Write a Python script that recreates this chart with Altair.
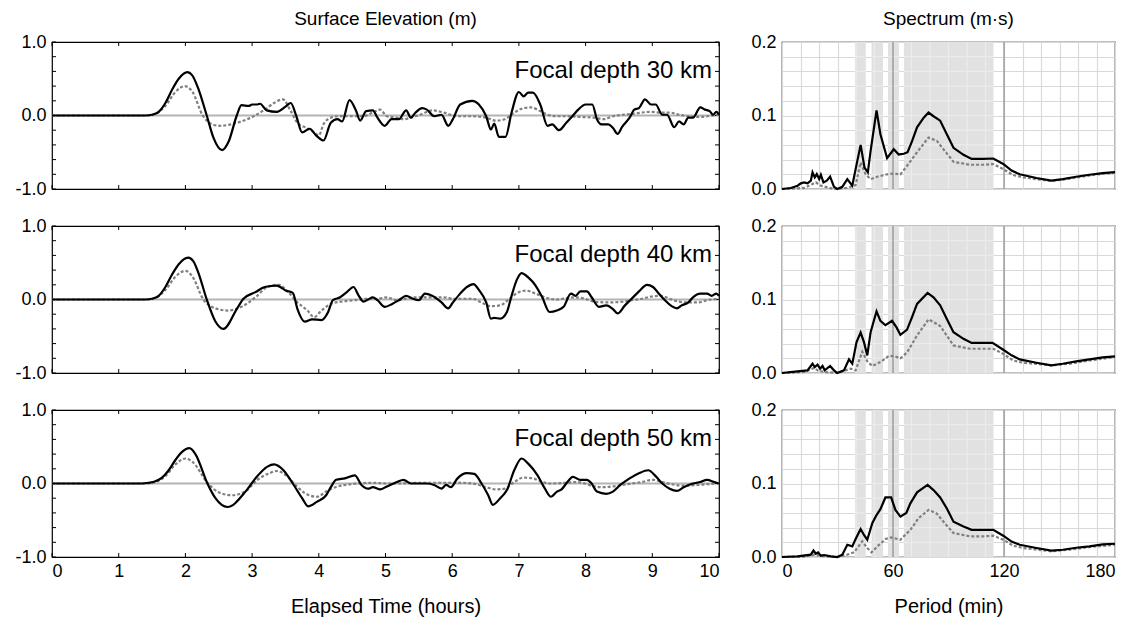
import altair as alt
import pandas as pd

FONT = "Liberation Sans"

# ---------------- time series (hours, metres) ----------------
depths = [30, 40, 50]

solid_30 = [(0,0),(1.4,0),(1.5,0.01),(1.6,0.05),(1.7,0.17),(1.8,0.35),(1.9,0.50),(2.03,0.59),(2.1,0.55),(2.2,0.35),(2.32,0.0),(2.42,-0.3),(2.55,-0.47),(2.65,-0.35),(2.77,0.0),(2.84,0.14),(2.95,0.13),(3.0,0.15),(3.08,0.15),(3.12,0.16),(3.22,0.07),(3.37,0.05),(3.5,0.12),(3.58,0.17),(3.66,0.0),(3.75,-0.23),(3.86,-0.18),(3.97,-0.28),(4.07,-0.34),(4.18,-0.1),(4.28,-0.05),(4.35,-0.08),(4.46,0.21),(4.56,0.06),(4.62,-0.07),(4.71,0.06),(4.81,0.07),(4.88,-0.03),(4.99,-0.14),(5.09,-0.05),(5.2,-0.05),(5.31,0.07),(5.38,-0.03),(5.45,0.04),(5.55,0.1),(5.62,0.08),(5.73,-0.01),(5.84,0.01),(5.94,-0.14),(6.01,-0.05),(6.12,0.15),(6.3,0.2),(6.4,0.15),(6.51,-0.01),(6.58,-0.19),(6.63,-0.11),(6.7,-0.29),(6.8,-0.29),(6.89,0.04),(7.0,0.32),(7.07,0.26),(7.14,0.31),(7.21,0.31),(7.32,0.15),(7.43,-0.14),(7.5,-0.12),(7.6,-0.2),(7.71,-0.1),(7.82,0.01),(7.89,0.08),(8.0,0.15),(8.1,0.15),(8.17,-0.05),(8.24,-0.12),(8.34,-0.12),(8.41,-0.17),(8.48,-0.25),(8.55,-0.15),(8.66,-0.03),(8.73,0.08),(8.8,0.1),(8.89,0.22),(8.98,0.15),(9.05,0.15),(9.15,0.01),(9.22,0.01),(9.33,-0.16),(9.4,-0.08),(9.47,-0.12),(9.54,-0.03),(9.61,-0.03),(9.72,0.11),(9.79,0.08),(9.86,0.06),(9.91,0.01),(9.96,0.05),(10.0,0.01)]
dashed_30 = [(0,0),(1.45,0),(1.55,0.02),(1.7,0.13),(1.85,0.32),(1.99,0.40),(2.1,0.33),(2.26,0.0),(2.4,-0.12),(2.52,-0.14),(2.77,-0.10),(2.98,-0.03),(3.19,0.08),(3.33,0.17),(3.46,0.22),(3.58,0.06),(3.68,-0.1),(3.82,-0.17),(3.93,-0.23),(4.0,-0.27),(4.07,-0.12),(4.18,-0.03),(4.28,-0.01),(4.46,-0.01),(4.67,-0.01),(4.81,0.04),(4.92,0.08),(5.02,-0.01),(5.17,-0.03),(5.27,-0.05),(5.38,-0.03),(5.52,0.01),(5.7,0.07),(5.87,0.04),(6.08,-0.01),(6.3,-0.01),(6.51,-0.03),(6.65,-0.07),(6.79,-0.05),(6.93,0.04),(7.07,0.1),(7.18,0.11),(7.32,0.06),(7.43,0.01),(7.57,-0.01),(7.71,-0.01),(7.92,-0.02),(8.13,-0.03),(8.27,-0.05),(8.41,-0.01),(8.55,0.01),(8.69,0.02),(8.84,0.04),(8.98,0.05),(9.12,0.04),(9.26,0.04),(9.4,0.01),(9.55,-0.01),(9.69,-0.02),(9.82,-0.01),(10.0,0.01)]

solid_40 = [(0,0),(1.4,0),(1.5,0.01),(1.6,0.05),(1.7,0.17),(1.8,0.34),(1.9,0.48),(2.04,0.57),(2.12,0.52),(2.2,0.35),(2.32,0.0),(2.45,-0.3),(2.57,-0.40),(2.77,-0.13),(2.87,0.01),(3.05,0.10),(3.19,0.17),(3.37,0.19),(3.51,0.12),(3.61,0.09),(3.68,-0.13),(3.79,-0.30),(3.90,-0.27),(4.04,-0.28),(4.14,-0.17),(4.21,-0.01),(4.32,0.03),(4.42,0.10),(4.52,0.17),(4.60,0.05),(4.67,-0.03),(4.74,0.0),(4.81,0.03),(4.88,-0.01),(4.99,-0.10),(5.10,-0.06),(5.20,-0.01),(5.31,0.05),(5.41,0.01),(5.50,-0.01),(5.59,0.08),(5.70,0.05),(5.84,-0.04),(5.94,-0.12),(6.01,-0.04),(6.12,0.08),(6.22,0.17),(6.32,0.21),(6.40,0.13),(6.51,-0.04),(6.58,-0.26),(6.63,-0.25),(6.72,-0.26),(6.82,-0.17),(6.89,0.05),(6.97,0.27),(7.04,0.36),(7.14,0.30),(7.25,0.19),(7.35,0.03),(7.46,-0.17),(7.57,-0.15),(7.67,-0.10),(7.78,0.08),(7.85,0.05),(7.92,0.11),(8.02,0.11),(8.09,0.03),(8.20,-0.10),(8.31,-0.08),(8.41,-0.13),(8.48,-0.19),(8.59,-0.08),(8.69,0.01),(8.80,0.11),(8.92,0.20),(9.01,0.17),(9.08,0.10),(9.19,-0.01),(9.29,-0.09),(9.37,-0.12),(9.44,-0.08),(9.54,-0.04),(9.61,0.03),(9.72,0.08),(9.82,0.08),(9.89,0.05),(9.96,0.08),(10.0,0.05)]
dashed_40 = [(0,0),(1.45,0),(1.55,0.02),(1.7,0.13),(1.85,0.31),(2.0,0.39),(2.1,0.32),(2.27,0.0),(2.45,-0.12),(2.63,-0.15),(2.84,-0.10),(3.05,0.03),(3.23,0.17),(3.40,0.20),(3.54,0.10),(3.68,-0.04),(3.83,-0.15),(3.93,-0.24),(4.04,-0.15),(4.18,-0.06),(4.32,-0.03),(4.53,-0.01),(4.74,0.01),(4.88,0.01),(5.02,0.03),(5.17,-0.01),(5.31,0.01),(5.45,0.03),(5.59,0.03),(5.73,0.03),(5.87,0.03),(6.01,0.01),(6.15,0.01),(6.3,0.01),(6.44,-0.04),(6.58,-0.09),(6.72,-0.08),(6.86,0.01),(7.0,0.10),(7.11,0.12),(7.25,0.08),(7.42,0.02),(7.57,0.0),(7.71,0.02),(7.85,0.03),(7.99,0.01),(8.13,-0.03),(8.34,-0.04),(8.55,-0.03),(8.69,-0.01),(8.84,0.01),(8.98,0.04),(9.12,0.05),(9.26,0.01),(9.40,-0.03),(9.54,-0.04),(9.68,-0.04),(9.82,-0.01),(10.0,0.01)]

solid_50 = [(0,0),(1.35,0),(1.45,0.01),(1.55,0.03),(1.65,0.08),(1.75,0.18),(1.85,0.32),(1.95,0.43),(2.06,0.48),(2.15,0.40),(2.33,0.0),(2.45,-0.2),(2.63,-0.32),(2.91,-0.10),(3.05,0.07),(3.23,0.23),(3.33,0.26),(3.47,0.18),(3.61,0.0),(3.75,-0.20),(3.84,-0.31),(3.97,-0.25),(4.11,-0.16),(4.18,-0.05),(4.26,0.05),(4.39,0.07),(4.54,0.11),(4.64,-0.02),(4.74,-0.07),(4.81,-0.05),(4.92,-0.08),(5.02,-0.04),(5.17,0.02),(5.27,0.05),(5.38,0.0),(5.52,0.0),(5.62,0.0),(5.73,-0.02),(5.84,-0.07),(5.91,-0.02),(5.98,-0.05),(6.08,0.07),(6.22,0.14),(6.33,0.13),(6.44,0.0),(6.54,-0.16),(6.61,-0.29),(6.72,-0.20),(6.82,-0.09),(6.93,0.18),(7.04,0.34),(7.14,0.27),(7.28,0.11),(7.39,-0.07),(7.48,-0.18),(7.57,-0.11),(7.64,-0.08),(7.71,0.0),(7.81,0.09),(7.92,0.05),(8.02,0.05),(8.09,0.0),(8.17,-0.11),(8.31,-0.14),(8.41,-0.11),(8.52,-0.02),(8.66,0.07),(8.80,0.14),(8.94,0.18),(9.05,0.10),(9.15,0.0),(9.26,-0.07),(9.37,-0.10),(9.47,-0.05),(9.61,0.0),(9.72,0.02),(9.82,0.05),(9.93,0.02),(10.0,0.0)]
dashed_50 = [(0,0),(1.45,0),(1.55,0.02),(1.7,0.10),(1.85,0.26),(2.0,0.34),(2.1,0.30),(2.34,0.0),(2.5,-0.12),(2.70,-0.16),(2.91,-0.10),(3.08,0.05),(3.26,0.14),(3.37,0.17),(3.51,0.11),(3.65,-0.02),(3.79,-0.13),(3.97,-0.18),(4.11,-0.11),(4.25,-0.05),(4.39,-0.02),(4.60,0.0),(4.81,0.01),(5.02,0.0),(5.24,0.0),(5.45,0.01),(5.66,0.01),(5.87,0.01),(6.08,0.01),(6.3,0.0),(6.51,-0.05),(6.65,-0.08),(6.79,-0.07),(6.93,0.02),(7.07,0.08),(7.21,0.07),(7.35,0.02),(7.49,0.0),(7.71,0.01),(7.85,0.02),(7.99,0.0),(8.13,-0.04),(8.27,-0.05),(8.41,-0.04),(8.62,-0.01),(8.84,0.02),(9.01,0.05),(9.15,0.02),(9.29,-0.01),(9.47,-0.03),(9.68,-0.02),(9.82,-0.01),(10.0,0.0)]

# ---------------- spectra (period min, m*s) ----------------
spec_solid_30 = [(0,0),(4.8,0.0014),(8.4,0.0045),(10.2,0.0077),(12.0,0.009),(13.8,0.0077),(15.6,0.0113),(16.5,0.0226),(17.7,0.0158),(18.8,0.0203),(20.1,0.0135),(21.0,0.0194),(22.4,0.009),(24.2,0.0113),(26.0,0.0167),(28.1,0.003),(29.9,0),(32.6,0.003),(35.3,0.0135),(38.0,0.0045),(39.8,0.027),(42.5,0.060),(44.6,0.029),(46.4,0.0226),(47.9,0.052),(51.1,0.107),(53.2,0.0745),(56.8,0.042),(60.4,0.054),(63.1,0.047),(65.8,0.048),(67.9,0.050),(70.3,0.065),(73.0,0.084),(76.6,0.097),(79.2,0.104),(81.9,0.099),(85.5,0.093),(89.1,0.0745),(92.7,0.056),(98.1,0.0465),(102.5,0.041),(108.8,0.041),(114.2,0.0415),(119.6,0.034),(124.1,0.025),(128.5,0.020),(137.5,0.015),(145.6,0.0113),(151.8,0.0135),(159.0,0.0167),(166.2,0.0194),(173.4,0.0217),(180,0.023)]
spec_dashed_30 = [(0,0),(12.0,0.0014),(16.5,0.0068),(18.3,0.009),(21.0,0.0045),(24.6,0.0023),(28.1,0),(35.3,0.0014),(39.8,0.0054),(42.5,0.036),(45.2,0.020),(47.9,0.0135),(51.5,0.0167),(56.8,0.020),(60.4,0.021),(64.0,0.020),(67.6,0.0316),(73.0,0.050),(79.2,0.070),(83.7,0.0655),(87.3,0.054),(92.7,0.037),(101.6,0.033),(108.8,0.033),(114.2,0.034),(119.6,0.027),(125.0,0.019),(130.3,0.0158),(145.6,0.0108),(155.4,0.014),(164.4,0.0176),(173.4,0.0208),(180,0.0221)]

spec_solid_40 = [(0,0),(8.4,0.0023),(13.8,0.0036),(16.5,0.0126),(17.7,0.0081),(19.2,0.0113),(20.6,0.0059),(21.9,0.0095),(23.1,0.0036),(26.0,0.0095),(28.1,0.0036),(29.9,0),(33.5,0.0036),(36.2,0.0185),(38.0,0.0126),(40.3,0.042),(42.5,0.055),(44.3,0.042),(46.1,0.024),(47.9,0.0555),(51.1,0.084),(53.2,0.071),(55.9,0.065),(59.5,0.071),(61.9,0.062),(64.0,0.052),(67.6,0.059),(70.3,0.076),(73.0,0.094),(78.7,0.109),(81.9,0.103),(85.5,0.092),(89.1,0.0736),(92.7,0.0555),(98.1,0.0465),(102.5,0.041),(108.8,0.041),(113.8,0.041),(119.6,0.0316),(124.1,0.024),(128.5,0.0185),(137.5,0.014),(145.6,0.0104),(151.8,0.0126),(159.0,0.0158),(166.2,0.0185),(173.4,0.0212),(180,0.0226)]
spec_dashed_40 = [(0,0),(12.0,0.0014),(17.4,0.0068),(19.2,0.0036),(22.8,0.0014),(29.9,0),(37.1,0.0059),(39.8,0.0036),(43.4,0.029),(46.1,0.0158),(48.8,0.0095),(53.2,0.0149),(57.7,0.023),(60.4,0.023),(64.0,0.020),(67.6,0.028),(73.0,0.051),(79.2,0.073),(85.5,0.064),(92.7,0.0375),(101.6,0.033),(114.2,0.033),(119.6,0.026),(125.0,0.017),(130.3,0.014),(145.6,0.0104),(155.4,0.0126),(166.2,0.017),(180,0.0217)]

spec_solid_50 = [(0,0),(8.4,0.0009),(15.6,0.0032),(17.0,0.009),(18.3,0.0045),(19.5,0.0063),(21.0,0.0018),(22.8,0.0027),(26.4,0.0009),(29.9,0),(32.6,0.0032),(35.3,0.0167),(38.0,0.0144),(39.8,0.0244),(42.5,0.038),(44.3,0.030),(46.1,0.0235),(48.8,0.046),(51.1,0.057),(53.2,0.065),(55.9,0.081),(59.0,0.081),(61.3,0.064),(64.0,0.055),(67.2,0.060),(69.4,0.073),(73.0,0.088),(78.7,0.098),(81.9,0.091),(85.5,0.081),(89.1,0.066),(92.7,0.048),(98.1,0.0415),(102.5,0.037),(108.8,0.037),(114.2,0.037),(119.6,0.029),(124.1,0.021),(128.5,0.0167),(137.5,0.0122),(145.6,0.0086),(151.8,0.0099),(159.0,0.0126),(166.2,0.0144),(173.4,0.0172),(180,0.018)]
spec_dashed_50 = [(0,0),(12.0,0.0005),(17.4,0.0032),(22.8,0.0009),(29.9,0),(35.3,0.0032),(38.9,0.0063),(43.4,0.0213),(46.1,0.0122),(48.4,0.0063),(51.5,0.0144),(55.9,0.0244),(59.0,0.0267),(64.0,0.0235),(69.4,0.037),(73.9,0.053),(79.2,0.064),(83.7,0.059),(87.3,0.048),(92.7,0.0326),(101.6,0.028),(108.8,0.028),(114.2,0.029),(119.6,0.0235),(125.0,0.0154),(130.3,0.0122),(145.6,0.0077),(155.4,0.0099),(166.2,0.0135),(180,0.0167)]

# shaded period bands and reference periods (min)
band_start = [39.4, 48.4, 57.3, 65.9]
band_end = [45.3, 54.6, 63.2, 114.3]
ref_periods = [60, 120]

# axis tick / grid positions
elev_ticks = [-1.0, -0.8, -0.6, -0.4, -0.2, 0.0, 0.2, 0.4, 0.6, 0.8, 1.0]
hour_ticks = [0, 1, 2, 3, 4, 5, 6, 7, 8, 9, 10]
period_grid = [0, 10, 20, 30, 40, 50, 60, 70, 80, 90, 100, 110, 120, 130, 140, 150, 160, 170, 180]
spec_grid = [0.0, 0.02, 0.04, 0.06, 0.08, 0.1, 0.12, 0.14, 0.16, 0.18, 0.2]

series = {
    30: (solid_30, dashed_30, spec_solid_30, spec_dashed_30),
    40: (solid_40, dashed_40, spec_solid_40, spec_dashed_40),
    50: (solid_50, dashed_50, spec_solid_50, spec_dashed_50),
}

LW, LH = 667, 147
RW, RH = 333, 147
TICK = 4
LABEL_FS = 18
TITLE_FS = 19
AXTITLE_FS = 20


def to_df(pairs, xname, yname):
    return pd.DataFrame(pairs, columns=[xname, yname])


def left_panel(depth, bottom):
    solid, dashed = series[depth][0], series[depth][1]
    xs = alt.Scale(domain=[0, 10], nice=False, zero=False)
    ys = alt.Scale(domain=[-1, 1], nice=False)
    if bottom:
        xax = alt.Axis(values=hour_ticks, format="d", ticks=False, domain=False, grid=False,
                       labelFontSize=LABEL_FS, labelPadding=5, title="Elapsed Time (hours)",
                       titleFontSize=AXTITLE_FS, titleFontWeight="normal", titlePadding=16,
                       labelColor="black", titleColor="black")
    else:
        xax = None
    yax = alt.Axis(values=[-1, 0, 1], ticks=False, domain=False, grid=False, labelFontSize=LABEL_FS,
                   labelPadding=6, title=None, labelColor="black",
                   labelExpr="datum.value < 0 ? '-1.0' : format(datum.value, '.1f')")

    zero = alt.Chart(pd.DataFrame({"v": [0.0]})).mark_rule(color="#b4b4b4", strokeWidth=2).encode(
        y=alt.Y("v:Q", scale=ys, axis=yax))
    tdf = pd.DataFrame({"v": elev_ticks})
    hdf = pd.DataFrame({"h": hour_ticks})
    lt = alt.Chart(tdf).mark_rule(color="black").encode(
        y=alt.Y("v:Q", scale=ys, axis=yax), x=alt.value(0), x2=alt.value(TICK))
    rt = alt.Chart(tdf).mark_rule(color="black").encode(
        y=alt.Y("v:Q", scale=ys, axis=yax), x=alt.value(LW - TICK), x2=alt.value(LW))
    tt = alt.Chart(hdf).mark_rule(color="black").encode(
        x=alt.X("h:Q", scale=xs, axis=xax), y=alt.value(0), y2=alt.value(TICK))
    bt = alt.Chart(hdf).mark_rule(color="black").encode(
        x=alt.X("h:Q", scale=xs, axis=xax), y=alt.value(LH - TICK), y2=alt.value(LH))
    dline = alt.Chart(to_df(dashed, "t", "v")).mark_line(
        color="#808080", strokeWidth=2.2, strokeDash=[3, 2], interpolate="monotone").encode(
        x=alt.X("t:Q", scale=xs, axis=xax), y=alt.Y("v:Q", scale=ys, axis=yax))
    sline = alt.Chart(to_df(solid, "t", "v")).mark_line(
        color="black", strokeWidth=2.2, interpolate="monotone").encode(
        x=alt.X("t:Q", scale=xs, axis=xax), y=alt.Y("v:Q", scale=ys, axis=yax))
    label = alt.Chart(pd.DataFrame({"label": [f"Focal depth {depth} km"]})).mark_text(
        align="right", baseline="middle", fontSize=24, font=FONT, color="black").encode(
        x=alt.value(LW - 7), y=alt.value(29), text="label:N")
    return alt.layer(zero, lt, rt, tt, bt, dline, sline, label).properties(width=LW, height=LH)


def right_panel(depth, bottom):
    solid, dashed = series[depth][2], series[depth][3]
    xs = alt.Scale(domain=[0, 180], nice=False, zero=False)
    ys = alt.Scale(domain=[0, 0.2], nice=False)
    xax = alt.Axis(values=period_grid, ticks=False, domain=False, grid=True, gridColor="#d9d9d9",
                   gridWidth=1.2, labels=bottom, labelFontSize=LABEL_FS, labelPadding=5,
                   labelExpr="datum.value % 60 == 0 ? datum.label : ''",
                   title="Period (min)" if bottom else None, titleFontSize=AXTITLE_FS,
                   titleFontWeight="normal", titlePadding=16, labelColor="black", titleColor="black")
    yax = alt.Axis(values=spec_grid, ticks=False, domain=False, grid=True, gridColor="#d9d9d9",
                   gridWidth=1.2, labelFontSize=LABEL_FS, labelPadding=6, title=None, labelColor="black",
                   labelExpr="abs(datum.value*10 - round(datum.value*10)) < 0.001 ? format(datum.value, '.1f') : ''")
    bdf = pd.DataFrame({"start": band_start, "end": band_end})
    bands = alt.Chart(bdf).mark_rect(color="#e1e1e1").encode(
        x=alt.X("start:Q", scale=xs, axis=xax), x2="end:Q")
    # faint grid lines visible inside the shaded bands
    hin = bdf.merge(pd.DataFrame({"g": spec_grid[1:-1]}), how="cross")
    vin = pd.DataFrame([(p, s, e) for p in period_grid for s, e in zip(band_start, band_end)
                        if s < p < e and p not in ref_periods], columns=["g", "s", "e"])
    hgrid = alt.Chart(hin).mark_rule(color="#ececec", strokeWidth=1.2).encode(
        x=alt.X("start:Q", scale=xs, axis=xax), x2="end:Q", y=alt.Y("g:Q", scale=ys, axis=yax))
    vgrid = alt.Chart(vin).mark_rule(color="#ececec", strokeWidth=1.2).encode(
        x=alt.X("g:Q", scale=xs, axis=xax))
    refs = alt.Chart(pd.DataFrame({"p": ref_periods})).mark_rule(color="#8a8a8a", strokeWidth=1.2).encode(
        x=alt.X("p:Q", scale=xs, axis=xax))
    dline = alt.Chart(to_df(dashed, "p", "s")).mark_line(
        color="#808080", strokeWidth=2.2, strokeDash=[3, 2]).encode(
        x=alt.X("p:Q", scale=xs, axis=xax), y=alt.Y("s:Q", scale=ys, axis=yax))
    sline = alt.Chart(to_df(solid, "p", "s")).mark_line(color="black", strokeWidth=2.2).encode(
        x=alt.X("p:Q", scale=xs, axis=xax), y=alt.Y("s:Q", scale=ys, axis=yax))
    return alt.layer(bands, hgrid, vgrid, refs, dline, sline).properties(width=RW, height=RH)


left_charts = [left_panel(d, d == 50) for d in depths]
right_charts = [right_panel(d, d == 50) for d in depths]

left_charts[0] = left_charts[0].properties(
    title=alt.Title("Surface Elevation (m)", fontSize=TITLE_FS, fontWeight="normal", anchor="middle",
                    frame="group", offset=4, color="black"))
right_charts[0] = right_charts[0].properties(
    title=alt.Title("Spectrum (m·s)", fontSize=TITLE_FS, fontWeight="normal", anchor="middle",
                    frame="group", offset=4, color="black"))

left_col = alt.vconcat(*left_charts, spacing=17)
right_col = alt.vconcat(*right_charts, spacing=17)

chart = alt.hconcat(left_col, right_col, spacing=26).properties(
    padding={"left": 14, "top": 9, "right": 6, "bottom": 2}
).configure(font=FONT).configure_view(stroke="black", strokeWidth=1.2)

chart.save("out.html", embed_options={"renderer": "svg", "actions": False})
